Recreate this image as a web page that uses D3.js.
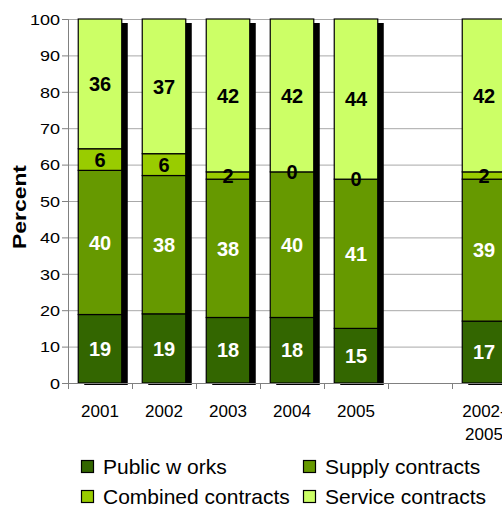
<!DOCTYPE html>
<html>
<head>
<meta charset="utf-8">
<script src="https://cdn.jsdelivr.net/npm/d3@7"></script>
<style>
  html, body { margin: 0; padding: 0; background: #fff; }
  svg { display: block; font-family: Arial, "Liberation Sans", sans-serif; }
</style>
</head>
<body>
<svg id="chart" width="502" height="506"></svg>
<script>
// Contract shares by year (percent); the empty category leaves a gap before the period total
const categories = ["2001", "2002", "2003", "2004", "2005", "", "2002-2005"];
const publicWorks = [19, 19, 18, 18, 15, null, 17];
const supplyContracts = [40, 38, 38, 40, 41, null, 39];
const combinedContracts = [6, 6, 2, 0, 0, null, 2];
const serviceContracts = [36, 37, 42, 42, 44, null, 42];

const seriesNames = ["Public w orks", "Supply contracts", "Combined contracts", "Service contracts"];
const seriesColors = ["#336600", "#669900", "#99cc00", "#ccff66"];
const labelColors = ["#ffffff", "#ffffff", "#000000", "#000000"];
const yTicks = [0, 10, 20, 30, 40, 50, 60, 70, 80, 90, 100];

const keys = ["pw", "sc", "cc", "sv"];
const rows = categories.map((c, i) => ({
  cat: c || "gap",
  label: c,
  pw: publicWorks[i], sc: supplyContracts[i], cc: combinedContracts[i], sv: serviceContracts[i]
}));
const filled = rows.filter(r => r.pw != null);

const svg = d3.select("#chart");
const plotLeft = 68, plotRight = 516, plotTop = 19, plotBottom = 383;

const x = d3.scaleBand().domain(rows.map(r => r.cat)).range([plotLeft, plotRight]).paddingInner(0.32).paddingOuter(0.16);
const y = d3.scaleLinear().domain([0, 100]).range([plotBottom, plotTop]);

// 100% stacked columns
const stack = d3.stack().keys(keys).offset(d3.stackOffsetExpand);
const layers = stack(filled);

// gridlines
svg.append("g").selectAll("line").data(yTicks.filter(t => t > 0)).join("line")
  .attr("x1", plotLeft).attr("x2", 502)
  .attr("y1", d => y(d) + 0.5).attr("y2", d => y(d) + 0.5)
  .attr("stroke", "#a8a8a8").attr("stroke-width", 1);

// drop shadows behind each column
const dx = 6, dy = 4;
svg.append("g").selectAll("rect").data(filled).join("rect")
  .attr("x", d => x(d.cat) + dx)
  .attr("y", y(100) + dy)
  .attr("width", x.bandwidth())
  .attr("height", y(0) - y(100) - dy + 2)
  .attr("fill", "#000");

// column segments
const segG = svg.append("g");
layers.forEach((layer, li) => {
  segG.append("g").selectAll("rect").data(layer).join("rect")
    .attr("x", d => x(d.data.cat))
    .attr("y", d => y(d[1] * 100))
    .attr("width", x.bandwidth())
    .attr("height", d => y(d[0] * 100) - y(d[1] * 100))
    .attr("fill", seriesColors[li])
    .attr("stroke", "#000").attr("stroke-width", 1.2);
});

// axes
const yAxis = d3.axisLeft(y).tickValues(yTicks).tickSize(6).tickPadding(4);
const yg = svg.append("g").attr("transform", `translate(${plotLeft},0)`).call(yAxis);
yg.select(".domain").attr("stroke", "#808080");
yg.selectAll(".tick line").attr("stroke", "#808080");
yg.selectAll(".tick text")
  .attr("font-size", 15).attr("fill", "#000")
  .attr("x", null).attr("dy", "0.35em")
  .attr("transform", "translate(-8,0) scale(1.2,1)");

const xAxis = d3.axisBottom(x).tickSize(0).tickFormat(() => "");
const xg = svg.append("g").attr("transform", `translate(0,${plotBottom})`).call(xAxis);
xg.select(".domain").attr("stroke", "#808080").attr("d", `M${plotLeft},0.5H${plotRight}`);
// boundary ticks between categories
const step = x.step();
svg.append("g").selectAll("line").data(d3.range(categories.length + 1)).join("line")
  .attr("x1", i => plotLeft + i * step + 0.5).attr("x2", i => plotLeft + i * step + 0.5)
  .attr("y1", plotBottom).attr("y2", plotBottom + 6)
  .attr("stroke", "#808080");

// category labels (the period label wraps onto two lines)
const catG = svg.append("g").attr("font-size", 17).attr("text-anchor", "middle");
rows.forEach(r => {
  if (!r.label) return;
  const parts = r.label.includes("-") ? [r.label.split("-")[0] + "-", r.label.split("-")[1]] : [r.label];
  const t = catG.append("text").attr("x", x(r.cat) + x.bandwidth() / 2).attr("y", 417);
  parts.forEach((p, k) => t.append("tspan").attr("x", x(r.cat) + x.bandwidth() / 2).attr("dy", k ? 23 : 0).text(p));
});

// value labels
const labG = svg.append("g").attr("font-size", 20).attr("font-weight", "bold").attr("text-anchor", "middle");
layers.forEach((layer, li) => {
  labG.append("g").selectAll("text").data(layer).join("text")
    .attr("x", d => x(d.data.cat) + x.bandwidth() / 2)
    .attr("y", d => y((d[0] + d[1]) / 2 * 100))
    .attr("dy", "0.36em")
    .attr("fill", labelColors[li])
    .text(d => d.data[keys[li]]);
});

// axis title
svg.append("text")
  .attr("transform", "translate(26,207) rotate(-90)")
  .attr("text-anchor", "middle")
  .attr("font-size", 19).attr("font-weight", "bold")
  .attr("textLength", 84).attr("lengthAdjust", "spacingAndGlyphs")
  .text("Percent");

// legend
const legendPos = [[81, 467], [303, 467], [81, 497], [303, 497]];
const lg = svg.append("g");
seriesNames.forEach((name, i) => {
  const [lx, ly] = legendPos[i];
  lg.append("rect").attr("x", lx + 0.5).attr("y", ly - 6.5).attr("width", 12).attr("height", 12)
    .attr("fill", seriesColors[i]).attr("stroke", "#000").attr("stroke-width", 1.2);
  lg.append("text").attr("x", lx + 22).attr("y", ly + 7).attr("font-size", 21).text(name);
});
</script>
</body>
</html>
